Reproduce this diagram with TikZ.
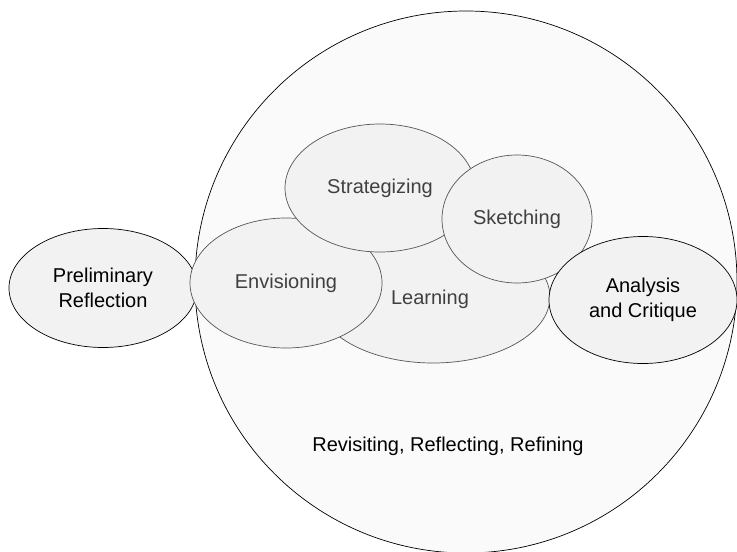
\documentclass[tikz,border=0pt]{standalone}
\usepackage{fontspec}
\setmainfont{Liberation Sans}
\usetikzlibrary{shapes.geometric}
\definecolor{outerfill}{HTML}{FAFAFA}
\definecolor{blobfill}{HTML}{F2F2F2}
\definecolor{innerline}{HTML}{555555}
\definecolor{innertext}{HTML}{404040}
\tikzset{outerblob/.style={draw=black,fill=blobfill,ellipse,inner sep=0,line width=0.7pt,
        align=center,font=\fontsize{20}{25}\selectfont},
    innerblob/.style={draw=innerline,fill=blobfill,ellipse,inner sep=0,line width=0.7pt,
        align=center,text=innertext,font=\fontsize{20}{25}\selectfont},
    bigcircle/.style={draw=black,fill=outerfill,circle,inner sep=0,line width=0.7pt}
}
\begin{document}
\begin{tikzpicture}[x=1pt,y=-1pt]

\useasboundingbox (0,0) rectangle (737,552);
\clip (0,0) rectangle (737,552);

% the whole cycle

\node (revCircle) at (466,282) [bigcircle,minimum size=542pt] {};
\node (revText) at (448,446) [font=\fontsize{20}{25}\selectfont] {Revisiting, Reflecting, Refining};

% before and after

\node (prelim) at (103,288) [outerblob,minimum width=188pt,minimum height=119pt] {Preliminary\\Reflection};

% inner stages

\node (learning) at (433,297) [innerblob,minimum width=234pt,minimum height=132pt] {};
\node (envision) at (286,283) [innerblob,minimum width=192pt,minimum height=130pt] {Envisioning};
\node (strategy) at (380,188) [innerblob,minimum width=190pt,minimum height=128pt] {Strategizing};
\node (sketch) at (517,219) [innerblob,minimum width=150pt,minimum height=128pt] {Sketching};
\node (learnText) at (430,299) [text=innertext,font=\fontsize{20}{25}\selectfont] {Learning};

\node (analysis) at (643,300) [outerblob,minimum width=188pt,minimum height=127pt] {Analysis\\and Critique};

\end{tikzpicture}
\end{document}
